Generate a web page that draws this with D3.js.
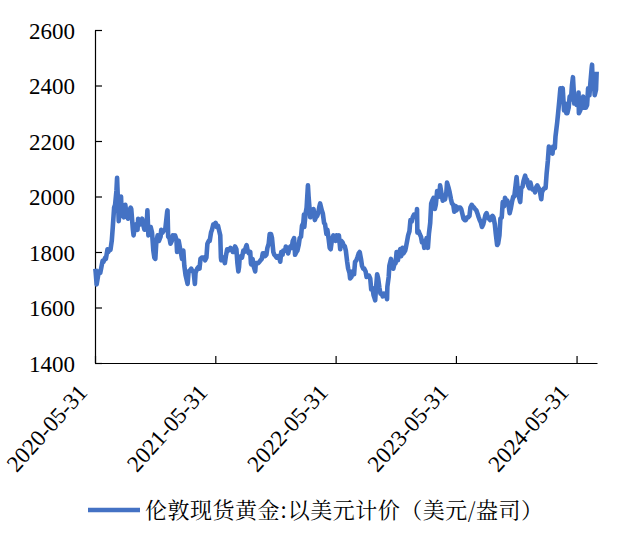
<!DOCTYPE html>
<html lang="zh">
<head>
  <meta charset="UTF-8">
  <title>伦敦现货黄金</title>
  <style>
      body{
          margin:0;
          background:#fff;
      }
      .axis path, .axis line{
          stroke:#000;
          stroke-width:1.2px;
      }
  </style>
</head>
<body>
<svg width="617" height="537"></svg>
<script src="https://d3js.org/d3.v7.min.js"></script>
<script>

    // 伦敦现货黄金 (美元/盎司), roughly twice a week
    var dates = [
        "2020-06-01","2020-06-02","2020-06-05","2020-06-09","2020-06-12","2020-06-16","2020-06-19","2020-06-23","2020-06-26",
        "2020-07-01","2020-07-03","2020-07-08","2020-07-10","2020-07-15","2020-07-17","2020-07-21","2020-07-24","2020-07-28","2020-07-31",
        "2020-08-04","2020-08-06","2020-08-07","2020-08-11","2020-08-13","2020-08-18","2020-08-20","2020-08-24","2020-08-27","2020-08-31",
        "2020-09-03","2020-09-08","2020-09-11","2020-09-16","2020-09-18","2020-09-23","2020-09-25","2020-09-29",
        "2020-10-02","2020-10-07","2020-10-09","2020-10-13","2020-10-16","2020-10-21","2020-10-23","2020-10-28","2020-10-30",
        "2020-11-04","2020-11-06","2020-11-09","2020-11-12","2020-11-16","2020-11-20","2020-11-24","2020-11-27","2020-11-30",
        "2020-12-03","2020-12-07","2020-12-11","2020-12-16","2020-12-18","2020-12-22","2020-12-24","2020-12-30",
        "2021-01-05","2021-01-06","2021-01-08","2021-01-12","2021-01-15","2021-01-19","2021-01-22","2021-01-26","2021-01-29",
        "2021-02-02","2021-02-04","2021-02-09","2021-02-12","2021-02-16","2021-02-19","2021-02-23","2021-02-26",
        "2021-03-02","2021-03-05","2021-03-08","2021-03-11","2021-03-16","2021-03-19","2021-03-23","2021-03-26","2021-03-30",
        "2021-04-01","2021-04-06","2021-04-09","2021-04-13","2021-04-16","2021-04-20","2021-04-23","2021-04-27","2021-04-30",
        "2021-05-04","2021-05-07","2021-05-11","2021-05-14","2021-05-18","2021-05-21","2021-05-25","2021-05-28",
        "2021-06-01","2021-06-04","2021-06-08","2021-06-11","2021-06-15","2021-06-17","2021-06-18","2021-06-22","2021-06-25","2021-06-29",
        "2021-07-02","2021-07-06","2021-07-09","2021-07-13","2021-07-16","2021-07-20","2021-07-23","2021-07-27","2021-07-30",
        "2021-08-03","2021-08-06","2021-08-09","2021-08-11","2021-08-13","2021-08-17","2021-08-20","2021-08-24","2021-08-27","2021-08-31",
        "2021-09-03","2021-09-07","2021-09-10","2021-09-14","2021-09-16","2021-09-17","2021-09-21","2021-09-24","2021-09-29",
        "2021-10-01","2021-10-05","2021-10-08","2021-10-12","2021-10-15","2021-10-19","2021-10-22","2021-10-26","2021-10-29",
        "2021-11-02","2021-11-05","2021-11-09","2021-11-12","2021-11-16","2021-11-19","2021-11-23","2021-11-26","2021-11-30",
        "2021-12-03","2021-12-07","2021-12-10","2021-12-14","2021-12-17","2021-12-21","2021-12-23","2021-12-29","2021-12-31",
        "2022-01-04","2022-01-07","2022-01-11","2022-01-14","2022-01-18","2022-01-21","2022-01-25","2022-01-28",
        "2022-02-01","2022-02-04","2022-02-08","2022-02-11","2022-02-15","2022-02-18","2022-02-22","2022-02-24","2022-02-25",
        "2022-03-01","2022-03-04","2022-03-08","2022-03-10","2022-03-11","2022-03-15","2022-03-18","2022-03-22","2022-03-25","2022-03-29",
        "2022-04-01","2022-04-05","2022-04-08","2022-04-12","2022-04-14","2022-04-19","2022-04-22","2022-04-26","2022-04-29",
        "2022-05-03","2022-05-06","2022-05-10","2022-05-13","2022-05-16","2022-05-20","2022-05-24","2022-05-27","2022-05-31",
        "2022-06-03","2022-06-07","2022-06-10","2022-06-14","2022-06-17","2022-06-21","2022-06-24","2022-06-28",
        "2022-07-01","2022-07-05","2022-07-08","2022-07-12","2022-07-14","2022-07-18","2022-07-22","2022-07-26","2022-07-29",
        "2022-08-02","2022-08-05","2022-08-09","2022-08-12","2022-08-16","2022-08-19","2022-08-23","2022-08-26","2022-08-30",
        "2022-09-02","2022-09-06","2022-09-09","2022-09-13","2022-09-16","2022-09-20","2022-09-23","2022-09-27","2022-09-28","2022-09-30",
        "2022-10-04","2022-10-07","2022-10-11","2022-10-14","2022-10-18","2022-10-21","2022-10-25","2022-10-28",
        "2022-11-01","2022-11-03","2022-11-04","2022-11-08","2022-11-10","2022-11-15","2022-11-18","2022-11-22","2022-11-25","2022-11-29",
        "2022-12-02","2022-12-06","2022-12-09","2022-12-13","2022-12-16","2022-12-20","2022-12-23","2022-12-28","2022-12-30",
        "2023-01-03","2023-01-06","2023-01-10","2023-01-13","2023-01-17","2023-01-20","2023-01-24","2023-01-27","2023-01-31",
        "2023-02-02","2023-02-03","2023-02-07","2023-02-10","2023-02-14","2023-02-17","2023-02-21","2023-02-24","2023-02-28",
        "2023-03-03","2023-03-07","2023-03-10","2023-03-14","2023-03-17","2023-03-20","2023-03-24","2023-03-28","2023-03-31",
        "2023-04-04","2023-04-06","2023-04-11","2023-04-13","2023-04-18","2023-04-21","2023-04-25","2023-04-28",
        "2023-05-02","2023-05-04","2023-05-09","2023-05-12","2023-05-16","2023-05-19","2023-05-23","2023-05-26","2023-05-31",
        "2023-06-02","2023-06-06","2023-06-09","2023-06-13","2023-06-16","2023-06-20","2023-06-23","2023-06-27","2023-06-30",
        "2023-07-04","2023-07-07","2023-07-11","2023-07-14","2023-07-18","2023-07-21","2023-07-25","2023-07-28",
        "2023-08-01","2023-08-04","2023-08-08","2023-08-11","2023-08-15","2023-08-18","2023-08-22","2023-08-25","2023-08-29",
        "2023-09-01","2023-09-05","2023-09-08","2023-09-12","2023-09-15","2023-09-19","2023-09-22","2023-09-26","2023-09-29",
        "2023-10-03","2023-10-06","2023-10-10","2023-10-13","2023-10-17","2023-10-20","2023-10-24","2023-10-27","2023-10-31",
        "2023-11-03","2023-11-07","2023-11-10","2023-11-14","2023-11-17","2023-11-21","2023-11-24","2023-11-28",
        "2023-12-01","2023-12-04","2023-12-06","2023-12-08","2023-12-12","2023-12-15","2023-12-19","2023-12-22","2023-12-27","2023-12-29",
        "2024-01-02","2024-01-05","2024-01-09","2024-01-12","2024-01-16","2024-01-19","2024-01-23","2024-01-26","2024-01-30",
        "2024-02-02","2024-02-06","2024-02-09","2024-02-13","2024-02-14","2024-02-16","2024-02-20","2024-02-23","2024-02-27",
        "2024-03-01","2024-03-05","2024-03-08","2024-03-12","2024-03-15","2024-03-19","2024-03-21","2024-03-26","2024-03-28",
        "2024-04-02","2024-04-05","2024-04-09","2024-04-12","2024-04-16","2024-04-19","2024-04-23","2024-04-26","2024-04-30",
        "2024-05-03","2024-05-07","2024-05-10","2024-05-14","2024-05-17","2024-05-20","2024-05-22","2024-05-24","2024-05-28","2024-05-31",
        "2024-06-04","2024-06-06","2024-06-07","2024-06-11","2024-06-14","2024-06-18","2024-06-20","2024-06-21","2024-06-25","2024-06-28",
        "2024-07-02","2024-07-05","2024-07-09","2024-07-12","2024-07-16","2024-07-17","2024-07-19","2024-07-23","2024-07-25","2024-07-29","2024-07-31"
    ];

    var gold = [
        1740,1728,1683,1712,1730,1725,1743,1768,1765,
        1780,1775,1810,1800,1810,1808,1842,1890,1960,1970,
        2020,2067,2035,1911,1945,2000,1930,1945,1925,1970,
        1940,1920,1945,1960,1955,1880,1860,1890,
        1900,1880,1920,1905,1900,1920,1905,1880,1880,
        1905,1950,1860,1870,1890,1870,1805,1780,1775,
        1835,1860,1840,1855,1880,1870,1875,1880,
        1945,1950,1855,1850,1830,1840,1860,1855,1860,
        1845,1800,1840,1820,1795,1775,1805,1750,
        1715,1700,1685,1730,1735,1740,1730,1730,1685,
        1725,1740,1745,1740,1775,1780,1780,1780,1770,
        1780,1830,1840,1840,1870,1880,1900,1900,
        1905,1890,1895,1880,1860,1780,1770,1780,1780,1760,
        1785,1810,1805,1810,1815,1810,1800,1800,1820,
        1810,1760,1730,1745,1780,1785,1780,1805,1800,1815,
        1825,1800,1795,1800,1760,1755,1775,1750,1730,
        1760,1760,1760,1765,1770,1775,1795,1795,1785,
        1790,1815,1830,1865,1865,1850,1800,1790,1785,
        1780,1785,1785,1765,1800,1790,1805,1805,1820,
        1810,1795,1815,1820,1815,1840,1850,1790,
        1800,1805,1825,1850,1855,1895,1905,1935,1890,
        1940,1960,2040,2000,1985,1925,1930,1935,1955,1915,
        1925,1930,1940,1965,1975,1950,1940,1905,1900,
        1865,1880,1845,1815,1810,1845,1860,1855,1840,
        1860,1850,1860,1810,1840,1835,1825,1820,
        1805,1765,1740,1725,1705,1710,1730,1720,1765,
        1770,1780,1795,1800,1775,1750,1740,1740,1730,
        1710,1715,1715,1705,1665,1670,1645,1630,1626,1660,
        1720,1705,1670,1650,1650,1640,1650,1645,
        1645,1630,1675,1710,1750,1775,1750,1740,1755,1760,
        1800,1770,1795,1810,1785,1815,1795,1805,1815,
        1840,1860,1875,1915,1910,1925,1935,1930,1925,
        1955,1870,1875,1865,1855,1835,1840,1815,1825,
        1850,1815,1865,1905,1975,1985,1995,1955,1970,
        2020,2010,2000,2040,2005,1985,1995,1990,
        2015,2050,2030,2015,1990,1975,1970,1945,1965,
        1950,1960,1960,1960,1955,1935,1920,1915,1915,
        1925,1925,1930,1960,1970,1965,1960,1955,
        1950,1940,1925,1915,1905,1890,1900,1915,1935,
        1940,1925,1920,1915,1925,1930,1925,1900,1865,
        1825,1830,1860,1920,1925,1980,1965,1995,1985,
        1985,1965,1940,1960,1980,2000,2000,2040,
        2070,2030,2025,2000,1980,2030,2035,2055,2075,2065,
        2060,2040,2030,2050,2030,2025,2025,2015,2035,
        2040,2030,2025,1995,1990,2015,2025,2030,2030,
        2080,2130,2180,2160,2160,2155,2180,2175,2215,
        2265,2300,2350,2390,2385,2390,2310,2335,2300,
        2300,2320,2360,2350,2400,2430,2390,2335,2355,2330,
        2330,2375,2300,2310,2320,2325,2360,2320,2330,2320,
        2330,2390,2365,2410,2465,2475,2400,2405,2365,2385,2450
    ];

    var yTicks = [1400, 1600, 1800, 2000, 2200, 2400, 2600];
    var xTicks = ["2020-05-31", "2021-05-31", "2022-05-31", "2023-05-31", "2024-05-31"];
    var seriesName = "伦敦现货黄金:以美元计价（美元/盎司）";

    var parse = d3.timeParse("%Y-%m-%d");
    var data = dates.map(function(d, i) { return {date: parse(d), value: gold[i]}; });

    var svg = d3.select("svg"),
        margin = {top: 30, left: 95},
        width = 502,
        height = 333,
        g = svg.append("g").attr("transform", "translate(" + margin.left + "," + margin.top + ")");

    var x = d3.scaleTime()
        .domain([parse("2020-05-31"), parse("2024-08-01")])
        .range([0, width]);

    var y = d3.scaleLinear()
        .domain([1400, 2600])
        .range([height, 0]);

    var ya = g.append("g")
        .attr("class", "axis")
        .call(d3.axisLeft(y).tickValues(yTicks).tickFormat(d3.format("d")).tickSize(-7).tickPadding(20).tickSizeOuter(0));

    ya.attr("font-family", "Liberation Serif").attr("font-size", 23);
    ya.selectAll("text")
        .attr("dy", "0.35em")
        .attr("fill", "#000")
        .style("font-family", "'Liberation Serif'");

    var xa = g.append("g")
        .attr("class", "axis")
        .attr("transform", "translate(0," + height + ")")
        .call(d3.axisBottom(x).tickValues(xTicks.map(parse)).tickFormat(d3.timeFormat("%Y-%m-%d")).tickSize(-7).tickSizeOuter(0));

    xa.attr("font-family", "Liberation Serif").attr("font-size", 23);
    xa.selectAll("text")
        .attr("x", 0)
        .attr("y", 0)
        .attr("dy", "0.35em")
        .attr("text-anchor", "end")
        .attr("fill", "#000")
        .attr("transform", "translate(-13,25) rotate(-48)")
        .style("font-family", "'Liberation Serif'");

    var line = d3.line()
        .x(function(d) { return x(d.date); })
        .y(function(d) { return y(d.value); });

    g.append("path")
        .datum(data)
        .attr("fill", "none")
        .attr("stroke", "#4472C4")
        .attr("stroke-width", 4.6)
        .attr("stroke-linejoin", "round")
        .attr("d", line);

    var legend = svg.append("g");
    legend.append("line")
        .attr("x1", 88).attr("x2", 140)
        .attr("y1", 510).attr("y2", 510)
        .attr("stroke", "#4472C4")
        .attr("stroke-width", 4.6);
    legend.append("text")
        .attr("x", 145)
        .attr("y", 510)
        .attr("dy", "0.36em")
        .attr("textLength", 398)
        .attr("lengthAdjust", "spacing")
        .attr("fill", "#000")
        .style("font-family", "'Noto Serif CJK SC', 'Noto Sans CJK SC', sans-serif")
        .style("font-size", "22px")
        .text(seriesName);

</script>
</body>
</html>
